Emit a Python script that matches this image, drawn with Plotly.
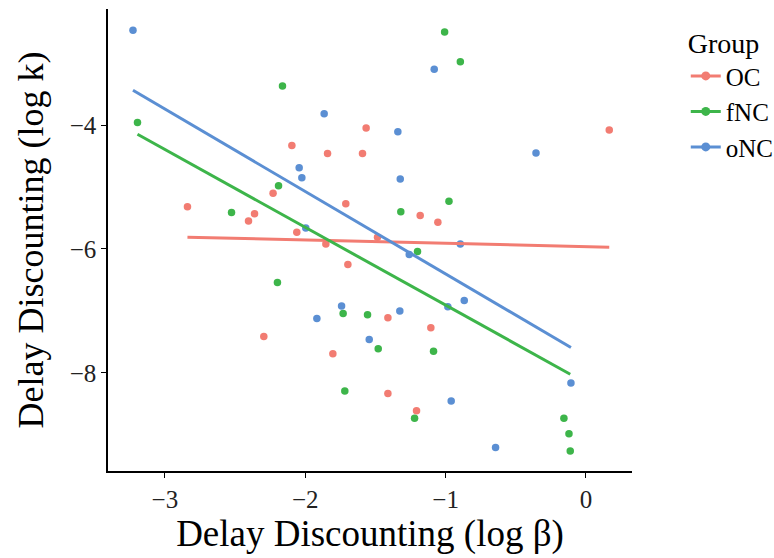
import plotly.graph_objects as go

# ---- data ----
groups = ["OC", "fNC", "oNC"]
colors = {"OC": "#F27C72", "fNC": "#3DB54A", "oNC": "#5B8FD3"}

oc_beta = [-2.095, -1.841, -1.592, -1.566, 0.166, -2.229, -1.711, -2.839, -2.361, -2.404,
           -2.060, -1.853, -1.181, -1.055, -1.485, -1.696, -1.411, -1.105, -1.803, -1.411,
           -1.207, -2.295]
oc_k = [-4.33, -4.46, -4.46, -4.05, -4.08, -5.10, -5.27, -5.32, -5.43, -5.55,
        -5.73, -5.92, -5.46, -5.57, -5.81, -6.25, -7.11, -7.27, -7.69, -8.33,
        -8.61, -7.41]

fnc_beta = [-2.162, -3.195, -2.190, -2.525, -1.007, -0.895, -0.976, -1.319, -1.200, -1.730,
            -1.556, -1.480, -1.086, -1.718, -1.221, -0.157, -0.121, -0.112, -2.198]
fnc_k = [-3.37, -3.96, -4.98, -5.41, -2.50, -2.98, -5.23, -5.40, -6.04, -7.04,
         -7.06, -7.61, -7.65, -8.29, -8.73, -8.73, -8.98, -9.26, -6.54]

onc_beta = [-3.227, -1.865, -2.043, -2.024, -1.996, -1.081, -1.340, -0.356, -1.323, -0.895,
            -1.259, -0.867, -1.741, -1.917, -1.326, -1.544, -0.107, -0.960, -0.644, -0.984]
onc_k = [-2.47, -3.82, -4.69, -4.85, -5.66, -3.10, -4.11, -4.45, -4.87, -5.92,
         -6.09, -6.83, -6.92, -7.12, -7.00, -7.46, -8.16, -8.45, -9.20, -6.93]

# fitted regression line end points
oc_fit_beta = [-2.839, 0.166]
oc_fit_k = [-5.81, -5.97]
fnc_fit_beta = [-3.195, -0.112]
fnc_fit_k = [-4.15, -8.02]
onc_fit_beta = [-3.227, -0.107]
onc_fit_k = [-3.44, -7.59]

x_ticks = [-3, -2, -1, 0]
y_ticks = [-8, -6, -4]

pts = {"OC": (oc_beta, oc_k), "fNC": (fnc_beta, fnc_k), "oNC": (onc_beta, onc_k)}
fits = {"OC": (oc_fit_beta, oc_fit_k), "fNC": (fnc_fit_beta, fnc_fit_k),
        "oNC": (onc_fit_beta, onc_fit_k)}

FONT = "Liberation Serif"

fig = go.Figure()
for g in groups:
    x, y = pts[g]
    fig.add_trace(go.Scatter(x=x, y=y, mode="markers", showlegend=False,
                             marker=dict(color=colors[g], size=7.5, line=dict(width=0)),
                             hoverinfo="x+y"))
for g in groups:
    x, y = fits[g]
    fig.add_trace(go.Scatter(x=x, y=y, mode="lines", showlegend=False,
                             line=dict(color=colors[g], width=3)))
for g in groups:
    fig.add_trace(go.Scatter(x=[None], y=[None], mode="lines+markers", name=g,
                             line=dict(color=colors[g], width=3),
                             marker=dict(color=colors[g], size=9)))

axis_common = dict(showgrid=False, zeroline=False, showline=True, linecolor="black",
                   linewidth=1.5, ticks="outside", ticklen=5, tickwidth=1.2,
                   tickcolor="black", tickfont=dict(family=FONT, size=25, color="#222"),
                   mirror=False, automargin=False)

fig.update_layout(
    width=774, height=558,
    margin=dict(l=108, r=142, t=9, b=87),
    paper_bgcolor="white", plot_bgcolor="white",
    font=dict(family=FONT, color="black"),
    xaxis=dict(range=[-3.405, 0.328], tickvals=x_ticks, ticklabelstandoff=0,
               title=dict(text="Delay Discounting (log β)", font=dict(family=FONT, size=37),
                          standoff=0),
               **axis_common),
    yaxis=dict(range=[-9.581, -2.129], tickvals=y_ticks,
               title=dict(text="Delay Discounting (log k)", font=dict(family=FONT, size=36),
                          standoff=15),
               **axis_common),
    legend=dict(title=dict(text="Group", font=dict(family=FONT, size=28)),
                font=dict(family=FONT, size=25), xref="container", yref="container",
                x=0.886, y=0.97, xanchor="left", yanchor="top",
                itemwidth=30, tracegroupgap=0, bgcolor="rgba(0,0,0,0)"),
)

fig.write_html("out.html", config={"displayModeBar": False},
               post_script="document.body.style.margin='0';")
